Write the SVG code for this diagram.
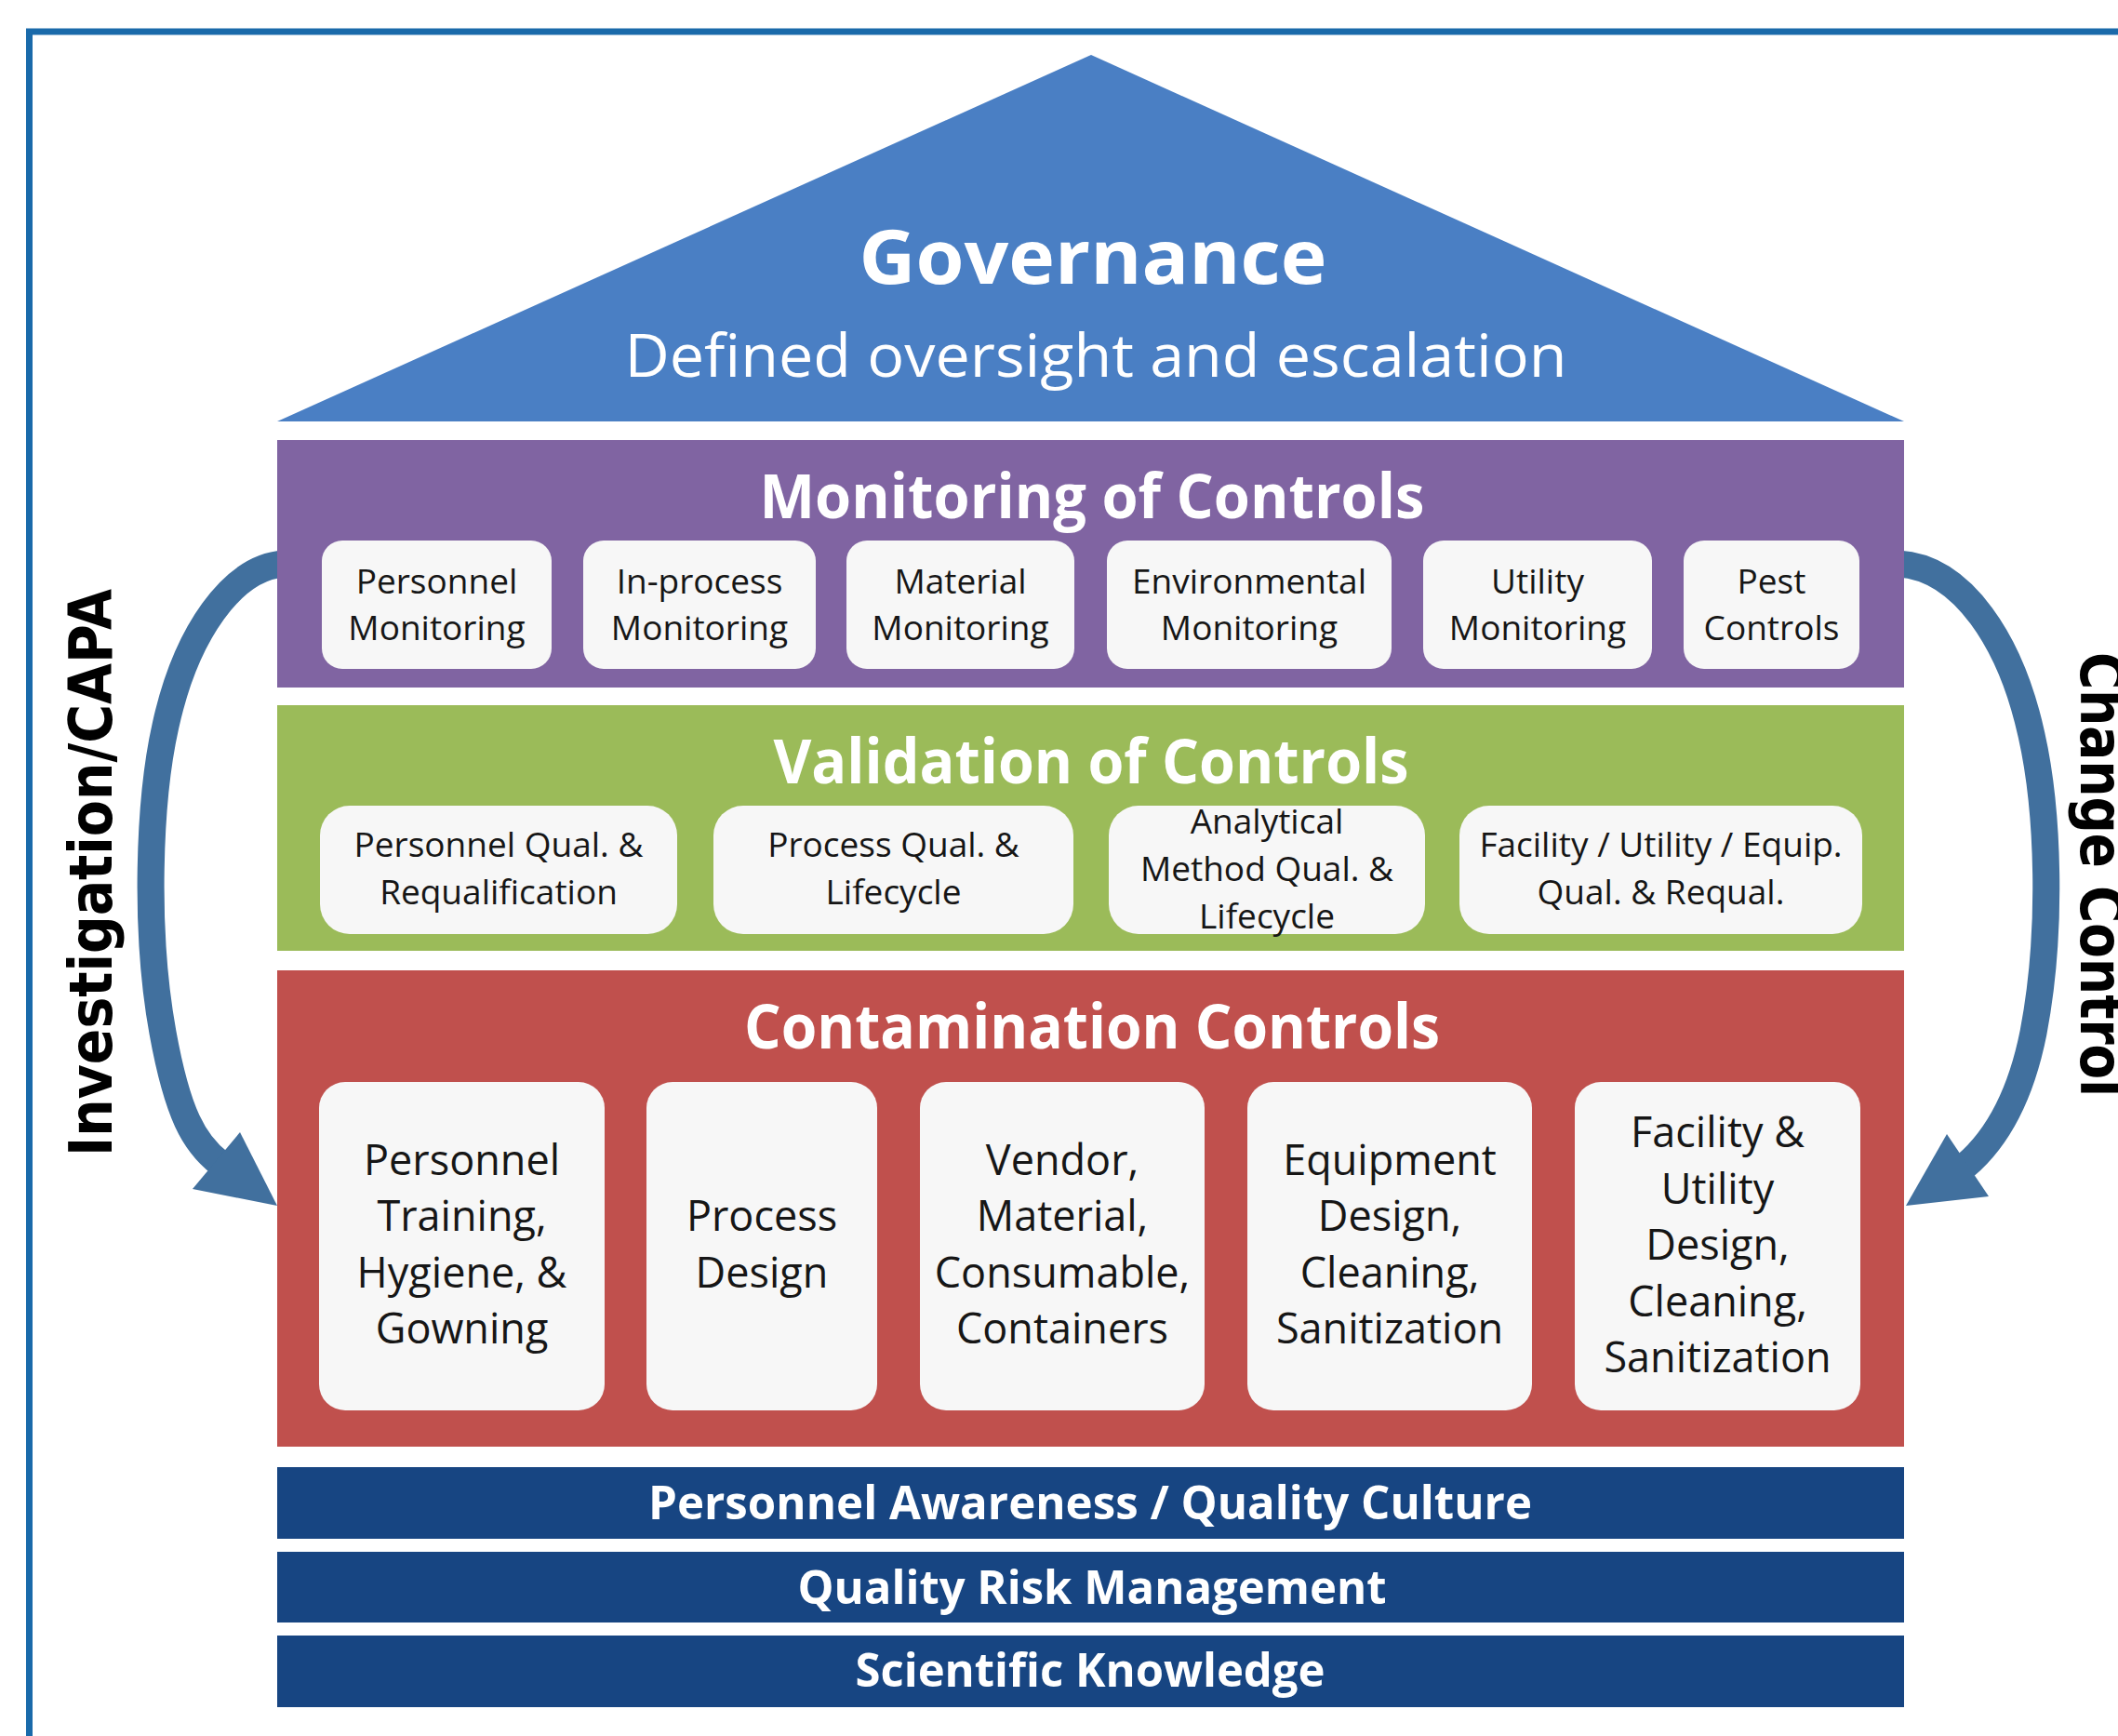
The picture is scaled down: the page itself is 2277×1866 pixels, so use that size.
<svg xmlns="http://www.w3.org/2000/svg" width="2277" height="1866" viewBox="0 0 2277 1866">
<style>
  .frame { fill:none; stroke:#1A6AAA; stroke-width:7 }
  .title { font-family:"Open Sans","Liberation Sans",sans-serif; font-weight:700; fill:#FFFFFF; text-anchor:middle }
  .sub { font-family:"Open Sans","Liberation Sans",sans-serif; font-weight:400; fill:#FFFFFF; text-anchor:middle }
  .box { fill:#F7F7F7 }
  .bt { font-family:"Open Sans","Liberation Sans",sans-serif; fill:#161616; text-anchor:middle; font-size:37px }
  .ct { font-family:"Open Sans","Liberation Sans",sans-serif; fill:#161616; text-anchor:middle; font-size:45px }
  .arc { fill:none; stroke:#41709E; stroke-width:29 }
  .head { fill:#41709E }
  .side { font-family:"DejaVu Sans Condensed","DejaVu Sans",sans-serif; font-weight:700; font-size:64px; fill:#000000; text-anchor:middle }
</style>

<rect class="frame" x="31.5" y="34" width="2300" height="1900"/>

<g id="connectors">
  <path class="arc" d="M 305 606 C 250 610, 200 680, 178 780 C 160 860, 155 1000, 175 1110 C 191 1198, 209 1229, 236 1250"/>
  <polygon class="head" points="298,1296 207,1278 258,1217"/>
  <path class="arc" d="M 2041 606 C 2110 610, 2162 690, 2184 790 C 2202 870, 2207 1000, 2186 1110 C 2170 1190, 2140 1230, 2113 1253"/>
  <polygon class="head" points="2049,1296 2093,1219 2138,1286"/>
</g>

<g id="governance">
  <polygon points="1173,59 2047,453 298,453" fill="#4A7FC4"/>
  <text class="title" x="1175" y="305" font-size="81" textLength="503" lengthAdjust="spacingAndGlyphs">Governance</text>
  <text class="sub" x="1178" y="405" font-size="64" textLength="1013" lengthAdjust="spacingAndGlyphs">Defined oversight and escalation</text>
</g>

<g id="monitoring">
  <rect x="298" y="473" width="1749" height="266" fill="#8064A2"/>
  <text class="title" x="1174" y="557" font-size="67" textLength="715" lengthAdjust="spacingAndGlyphs">Monitoring of Controls</text>
  <g id="mon-personnel"><rect class="box" x="346" y="581" width="247" height="138" rx="22"/><text class="bt" x="469.5" y="638">Personnel</text><text class="bt" x="469.5" y="688">Monitoring</text></g>
  <g id="mon-inprocess"><rect class="box" x="627" y="581" width="250" height="138" rx="22"/><text class="bt" x="752" y="638">In-process</text><text class="bt" x="752" y="688">Monitoring</text></g>
  <g id="mon-material"><rect class="box" x="910" y="581" width="245" height="138" rx="22"/><text class="bt" x="1032.5" y="638">Material</text><text class="bt" x="1032.5" y="688">Monitoring</text></g>
  <g id="mon-environmental"><rect class="box" x="1190" y="581" width="306" height="138" rx="22"/><text class="bt" x="1343" y="638">Environmental</text><text class="bt" x="1343" y="688">Monitoring</text></g>
  <g id="mon-utility"><rect class="box" x="1530" y="581" width="246" height="138" rx="22"/><text class="bt" x="1653" y="638">Utility</text><text class="bt" x="1653" y="688">Monitoring</text></g>
  <g id="mon-pest"><rect class="box" x="1810" y="581" width="189" height="138" rx="22"/><text class="bt" x="1904.5" y="638">Pest</text><text class="bt" x="1904.5" y="688">Controls</text></g>
</g>

<g id="validation">
  <rect x="298" y="758" width="1749" height="264" fill="#9BBB59"/>
  <text class="title" x="1173" y="842" font-size="67" textLength="683" lengthAdjust="spacingAndGlyphs">Validation of Controls</text>
  <g id="val-personnel"><rect class="box" x="344" y="866" width="384" height="138" rx="32"/><text class="bt" x="536" y="921">Personnel Qual. &amp;</text><text class="bt" x="536" y="972">Requalification</text></g>
  <g id="val-process"><rect class="box" x="767" y="866" width="387" height="138" rx="32"/><text class="bt" x="960.5" y="921">Process Qual. &amp;</text><text class="bt" x="960.5" y="972">Lifecycle</text></g>
  <g id="val-analytical"><rect class="box" x="1192" y="866" width="340" height="138" rx="32"/><text class="bt" x="1362" y="896">Analytical</text><text class="bt" x="1362" y="947">Method Qual. &amp;</text><text class="bt" x="1362" y="998">Lifecycle</text></g>
  <g id="val-facility"><rect class="box" x="1569" y="866" width="433" height="138" rx="32"/><text class="bt" x="1785.5" y="921">Facility / Utility / Equip.</text><text class="bt" x="1785.5" y="972">Qual. &amp; Requal.</text></g>
</g>

<g id="contamination">
  <rect x="298" y="1043" width="1749" height="512" fill="#C0504D"/>
  <text class="title" x="1174" y="1127" font-size="67" textLength="748" lengthAdjust="spacingAndGlyphs">Contamination Controls</text>
  <g id="con-personnel"><rect class="box" x="343" y="1163" width="307" height="353" rx="28"/>
    <text class="ct" x="496.5" y="1263">Personnel</text><text class="ct" x="496.5" y="1323">Training,</text><text class="ct" x="496.5" y="1384">Hygiene, &amp;</text><text class="ct" x="496.5" y="1444">Gowning</text></g>
  <g id="con-process"><rect class="box" x="695" y="1163" width="248" height="353" rx="28"/>
    <text class="ct" x="819" y="1323">Process</text><text class="ct" x="819" y="1384">Design</text></g>
  <g id="con-vendor"><rect class="box" x="989" y="1163" width="306" height="353" rx="28"/>
    <text class="ct" x="1142" y="1263">Vendor,</text><text class="ct" x="1142" y="1323">Material,</text><text class="ct" x="1142" y="1384">Consumable,</text><text class="ct" x="1142" y="1444">Containers</text></g>
  <g id="con-equipment"><rect class="box" x="1341" y="1163" width="306" height="353" rx="28"/>
    <text class="ct" x="1494" y="1263">Equipment</text><text class="ct" x="1494" y="1323">Design,</text><text class="ct" x="1494" y="1384">Cleaning,</text><text class="ct" x="1494" y="1444">Sanitization</text></g>
  <g id="con-facility"><rect class="box" x="1693" y="1163" width="307" height="353" rx="28"/>
    <text class="ct" x="1846.5" y="1233">Facility &amp;</text><text class="ct" x="1846.5" y="1293.5">Utility</text><text class="ct" x="1846.5" y="1354">Design,</text><text class="ct" x="1846.5" y="1414.5">Cleaning,</text><text class="ct" x="1846.5" y="1475">Sanitization</text></g>
</g>

<g id="awareness">
  <rect x="298" y="1577" width="1749" height="77" fill="#174582"/>
  <text class="title" x="1172" y="1633" font-size="50" textLength="950" lengthAdjust="spacingAndGlyphs">Personnel Awareness / Quality Culture</text>
</g>
<g id="qrm">
  <rect x="298" y="1668" width="1749" height="76" fill="#174582"/>
  <text class="title" x="1174" y="1724" font-size="50" textLength="633" lengthAdjust="spacingAndGlyphs">Quality Risk Management</text>
</g>
<g id="knowledge">
  <rect x="298" y="1758" width="1749" height="77" fill="#174582"/>
  <text class="title" x="1172" y="1813" font-size="50" textLength="505" lengthAdjust="spacingAndGlyphs">Scientific Knowledge</text>
</g>

<g id="label-capa">
  <text class="side" transform="translate(120,938) rotate(-90)" textLength="610" lengthAdjust="spacingAndGlyphs">Investigation/CAPA</text>
</g>
<g id="label-change">
  <text class="side" transform="translate(2237,940) rotate(90)" textLength="478" lengthAdjust="spacingAndGlyphs">Change Control</text>
</g>
</svg>
